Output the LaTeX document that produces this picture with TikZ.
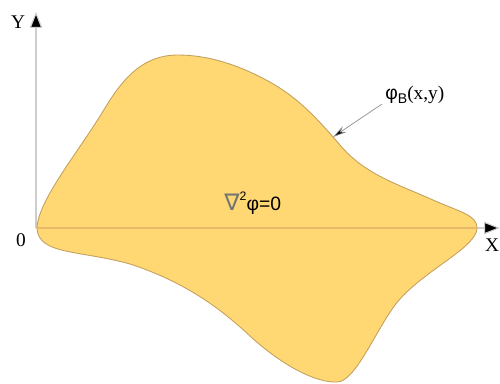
\documentclass[tikz,border=0pt]{standalone}
\usepackage{fontspec}
\setmainfont{Liberation Serif}
\newfontfamily\sansf{Liberation Sans}
\newfontfamily\dejav{DejaVu Sans}
\usetikzlibrary{arrows.meta}
\definecolor{fillyel}{RGB}{255,216,115}
\definecolor{edgetan}{RGB}{196,160,95}
\definecolor{axgray}{RGB}{205,205,205}
\definecolor{axtan}{RGB}{232,185,105}
\tikzset{
  axis/.style={draw=axgray, line width=0.6pt, arrows={-{Triangle[length=9pt,width=7pt,fill=black]}}},
  region/.style={fill=fillyel, draw=edgetan, line width=0.5pt},
  lbl/.style={font=\fontsize{11}{13}\selectfont, text=black, inner sep=0pt},
  pointer/.style={draw=axgray!70!black, line width=0.4pt, -{Stealth[length=8pt,width=4pt,fill=black]}}
}
\begin{document}
\begin{tikzpicture}[x=0.02cm,y=-0.02cm]
\useasboundingbox (0,0) rectangle (500,383);
% axes
\coordinate (o) at (36,228);
\coordinate (ytip) at (36,12);
\coordinate (xtip) at (500,228);
\coordinate (xin) at (477,228);
\draw[axis] (o) -- (ytip);
\draw[axis] (o) -- (xtip);
% region
\path[region] (37,228)
  .. controls (38,200) and (80,150) .. (105,108)
  .. controls (125,75) and (145,55) .. (178,55)
  .. controls (205,55) and (230,63) .. (250,72)
  .. controls (290,90) and (310,110) .. (340,145)
  .. controls (365,175) and (400,185) .. (433,200)
  .. controls (460,212) and (477,215) .. (477,228)
  .. controls (477,248) and (420,272) .. (395,305)
  .. controls (375,332) and (355,382) .. (337,382)
  .. controls (318,383) and (285,368) .. (250,336)
  .. controls (220,308) and (185,282) .. (130,264)
  .. controls (80,250) and (38,255) .. (37,228) -- cycle;
\draw[axtan, line width=0.6pt] (o) -- (xin);
% labels
\node[lbl] (ylab) at (18,22) {Y};
\node[lbl] (zero) at (21,240) {0};
\node[lbl] (xlab) at (492,245) {X};
\node[lbl] (lap) at (251,203) {{\dejav\color{black!55}\fontsize{13}{13}\selectfont$\,$\char"2207}{\sansf\raisebox{1.0ex}{\fontsize{7}{7}\selectfont 2}φ=0}};
\node[lbl, anchor=west] (phib) at (385,95) {{\sansf φ\raisebox{-0.35ex}{\fontsize{8}{8}\selectfont B}}(x,y)};
\coordinate (bnd) at (333,137);
\draw[pointer] (382,104) -- (bnd);
\end{tikzpicture}
\end{document}
